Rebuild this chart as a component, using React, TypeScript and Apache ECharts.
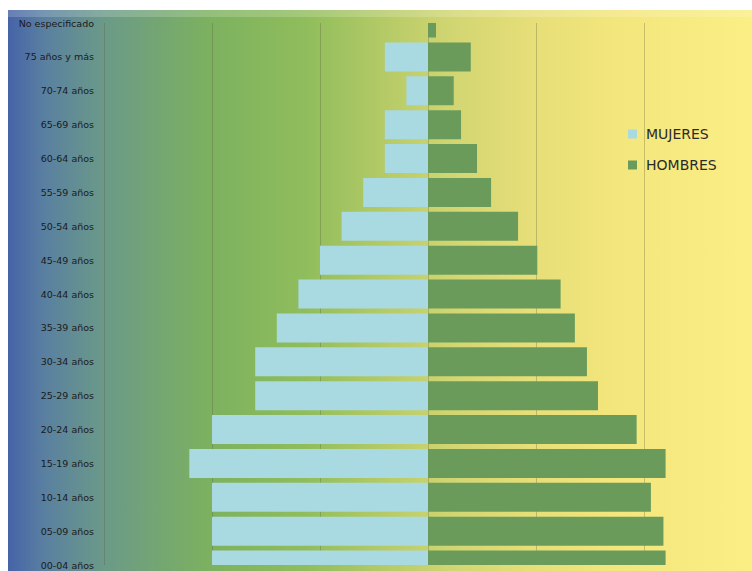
import { useEffect, useRef } from "react";
import * as echarts from "echarts";

const categories = [
  "00-04 años", "05-09 años", "10-14 años", "15-19 años", "20-24 años",
  "25-29 años", "30-34 años", "35-39 años", "40-44 años", "45-49 años",
  "50-54 años", "55-59 años", "60-64 años", "65-69 años", "70-74 años",
  "75 años y más", "No especificado",
];
const mujeres = [10.0, 10.0, 10.0, 11.05, 10.0, 8.0, 8.0, 7.0, 6.0, 5.0, 4.0, 3.0, 2.0, 2.0, 1.0, 2.0, 0];
const hombres = [11.0, 10.9, 10.32, 11.0, 9.66, 7.87, 7.36, 6.8, 6.14, 5.06, 4.17, 2.92, 2.27, 1.53, 1.19, 1.98, 0.37];
const seriesNames = ["MUJERES", "HOMBRES"];
const xTicks = { min: -15, max: 15, interval: 5 };

const bgStops = [
  { offset: 0, color: "#4663a8" },
  { offset: 0.05, color: "#5a80a0" },
  { offset: 0.13, color: "#6b9a88" },
  { offset: 0.27, color: "#7cb15f" },
  { offset: 0.4, color: "#90bd5c" },
  { offset: 0.52, color: "#b9cc68" },
  { offset: 0.6, color: "#d2d672" },
  { offset: 0.7, color: "#e6de78" },
  { offset: 0.82, color: "#f3e67c" },
  { offset: 1, color: "#faee84" },
];

const bgFill = () => new echarts.graphic.LinearGradient(8, 0, 752, 0, bgStops, true);

export default function App() {
  const ref = useRef<HTMLDivElement>(null);
  useEffect(() => {
    if (!ref.current) return;
    const chart = echarts.init(ref.current, undefined, { renderer: "svg" });
    chart.setOption({
      animation: false,
      backgroundColor: "#ffffff",
      graphic: {
        elements: [
          {
            type: "rect",
            z: -10,
            silent: true,
            shape: { x: 8, y: 10, width: 744, height: 561 },
            style: { fill: bgFill() },
          },
          {
            type: "rect",
            z: 100,
            silent: true,
            shape: { x: 104, y: 0, width: 648, height: 23 },
            style: { fill: bgFill() },
          },
          {
            type: "rect",
            z: 100,
            silent: true,
            shape: { x: 104, y: 565, width: 648, height: 6 },
            style: { fill: bgFill() },
          },
          {
            type: "rect",
            z: 101,
            silent: true,
            shape: { x: 0, y: 0, width: 752, height: 10 },
            style: { fill: "#ffffff" },
          },
          {
            type: "rect",
            z: 101,
            silent: true,
            shape: { x: 8, y: 10, width: 744, height: 7 },
            style: { fill: "rgba(255,255,255,0.18)" },
          },
        ],
      },
      legend: {
        data: seriesNames,
        orient: "vertical",
        left: 628,
        top: 125,
        padding: 0,
        itemWidth: 9,
        itemHeight: 9,
        itemGap: 13,
        icon: "rect",
        textStyle: {
          fontFamily: "DejaVu Sans",
          fontSize: 14,
          color: "#2a2a2a",
          lineHeight: 18,
          padding: [0, 0, 0, 4],
        },
      },
      grid: { left: 104, right: 0, top: 23, bottom: 6 },
      xAxis: {
        type: "value",
        min: xTicks.min,
        max: xTicks.max,
        interval: xTicks.interval,
        axisLabel: { show: false },
        axisLine: { show: false },
        axisTick: { show: false },
        splitLine: { show: true, lineStyle: { color: "rgba(90,90,60,0.3)", width: 1 } },
      },
      yAxis: {
        type: "category",
        data: categories,
        boundaryGap: false,
        axisLine: { show: false },
        axisTick: { show: false },
        splitLine: { show: false },
        axisLabel: {
          margin: 10,
          fontFamily: "DejaVu Sans",
          fontSize: 9.5,
          color: "#1a1a1a",
        },
      },
      series: [
        {
          name: seriesNames[0],
          type: "bar",
          stack: "total",
          barWidth: 29,
          itemStyle: { color: "#a9d9e1" },
          data: mujeres.map((v) => -v),
        },
        {
          name: seriesNames[1],
          type: "bar",
          stack: "total",
          barWidth: 29,
          itemStyle: { color: "#6b9b5b" },
          data: hombres,
        },
      ],
    });
    return () => chart.dispose();
  }, []);
  return (
    <div
      ref={ref}
      style={{ position: "fixed", left: 0, top: 0, width: 752, height: 571, overflow: "hidden" }}
    />
  );
}
